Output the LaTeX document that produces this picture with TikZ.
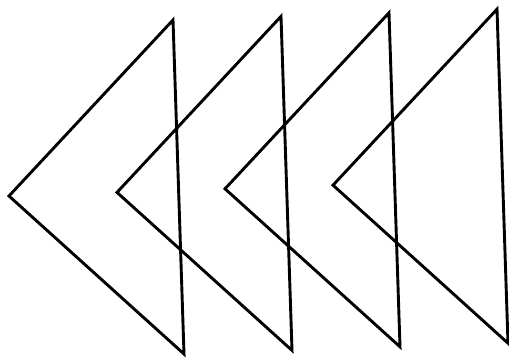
\documentclass[tikz,border=0pt]{standalone}
\usepackage{tikz}

\begin{document}
\begin{tikzpicture}[x=1pt,y=-1pt]
			\useasboundingbox (0,0) rectangle (509,358);
			\foreach \i in {0,1,2,3}
				\draw[line width=2.9pt, line join=miter] (9+108*\i, 196-3.6*\i) -- (173+108*\i, 20-3.6*\i) -- (184+108*\i, 354-3.6*\i) -- cycle;
		\end{tikzpicture}
\end{document}
